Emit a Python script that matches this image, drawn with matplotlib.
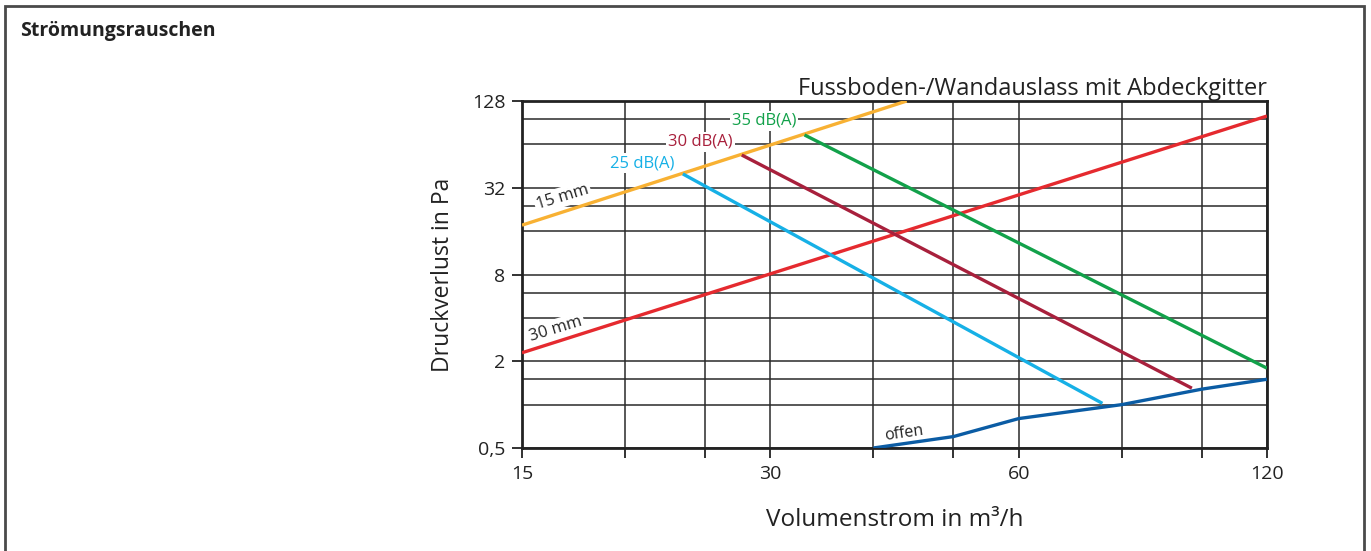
import matplotlib
matplotlib.use('Agg')
from matplotlib import pyplot as plt
from matplotlib.patches import Rectangle

plt.rcParams['font.family'] = ['Open Sans', 'DejaVu Sans']

# Kennlinien (Volumenstrom m3/h, Druckverlust Pa)
mm15_x = [15, 43.9]
mm15_y = [17.6, 128]
mm30_x = [15, 120]
mm30_y = [2.29, 100.7]
db25_x = [23.5, 75.8]
db25_y = [39.9, 1.02]
db30_x = [27.7, 97.3]
db30_y = [54, 1.30]
db35_x = [33.0, 120]
db35_y = [74.4, 1.79]
offen_x = [40, 50, 60, 80, 100, 120]
offen_y = [0.5, 0.6, 0.80, 1.0, 1.28, 1.5]

x_ticks = [15, 30, 60, 120]
x_grid = [20, 25, 40, 50, 80, 100]
y_ticks = [0.5, 2, 8, 32, 128]
y_tick_labels = ['0,5', '2', '8', '32', '128']
y_grid = [1, 1.5, 4, 6, 16, 24, 64, 96]

fig = plt.figure(figsize=(13.71, 5.51), dpi=100)
ax = fig.add_axes([522/1371, 103/551, 745/1371, 347/551])
ax.set_xscale('log', base=2)
ax.set_yscale('log', base=2)
ax.set_xlim(15, 120)
ax.set_ylim(0.5, 128)

gc = '#2a2a2a'
for v in x_ticks + x_grid:
    ax.axvline(v, color=gc, lw=1.1, zorder=1)
for v in y_ticks + y_grid:
    ax.axhline(v, color=gc, lw=1.1, zorder=1)

ax.set_xticks(x_ticks + x_grid)
ax.set_xticklabels([str(v) if v in x_ticks else '' for v in x_ticks + x_grid])
ax.xaxis.set_minor_locator(matplotlib.ticker.NullLocator())
ax.set_yticks(y_ticks)
ax.set_yticklabels(y_tick_labels)
ax.yaxis.set_minor_locator(matplotlib.ticker.NullLocator())
ax.tick_params(axis='both', length=7, width=1.3, color='#222222', labelsize=14,
               labelcolor='#222222', pad=5)
for s in ax.spines.values():
    s.set_linewidth(2)
    s.set_color('#222222')

lw = 2.4
ax.plot(mm15_x, mm15_y, color='#F8B133', lw=lw, zorder=4, solid_capstyle='butt')
ax.plot(mm30_x, mm30_y, color='#E52A2F', lw=lw, zorder=4, solid_capstyle='butt')
ax.plot(db25_x, db25_y, color='#16B0E6', lw=lw, zorder=4, solid_capstyle='butt')
ax.plot(db30_x, db30_y, color='#A8203C', lw=lw, zorder=4, solid_capstyle='butt')
ax.plot(db35_x, db35_y, color='#12A14A', lw=lw, zorder=4, solid_capstyle='butt')
ax.plot(offen_x, offen_y, color='#0B5CA4', lw=lw, zorder=4, solid_capstyle='butt')

box = dict(facecolor='white', edgecolor='none', pad=1.5)
ax.text(16.8, 27.6, '15 mm', rotation=17, fontsize=12, color='#222222',
        ha='center', va='center', bbox=box, zorder=3)
ax.text(16.5, 3.35, '30 mm', rotation=17, fontsize=12, color='#222222',
        ha='center', va='center', bbox=box, zorder=3)
ax.text(21.0, 47.5, '25 dB(A)', fontsize=12, color='#16B0E6',
        ha='center', va='center', bbox=box, zorder=3)
ax.text(24.7, 66.5, '30 dB(A)', fontsize=12, color='#A8203C',
        ha='center', va='center', bbox=box, zorder=3)
ax.text(29.5, 93, '35 dB(A)', fontsize=12, color='#12A14A',
        ha='center', va='center', bbox=box, zorder=3)
ax.text(43.6, 0.63, 'offen', rotation=8, fontsize=11.5, color='#222222',
        ha='center', va='center', zorder=3)

ax.set_title('Fussboden-/Wandauslass mit Abdeckgitter', loc='right',
             fontsize=17, color='#222222', pad=3)
ax.set_xlabel('Volumenstrom in m³/h', fontsize=17.5, color='#222222', labelpad=18)
ax.set_ylabel('Druckverlust in Pa', fontsize=16.5, color='#222222', labelpad=12)

fig.text(20/1371, 1 - 31/551, 'Strömungsrauschen', fontsize=14,
         fontweight='bold', color='#222222', va='center', ha='left')
fig.patches.append(Rectangle((5/1371, -0.05), 1359/1371, 1.05 - 6/551,
                             transform=fig.transFigure, fill=False,
                             edgecolor='#4a4a4a', lw=2))

fig.savefig('out.png', dpi=100)
